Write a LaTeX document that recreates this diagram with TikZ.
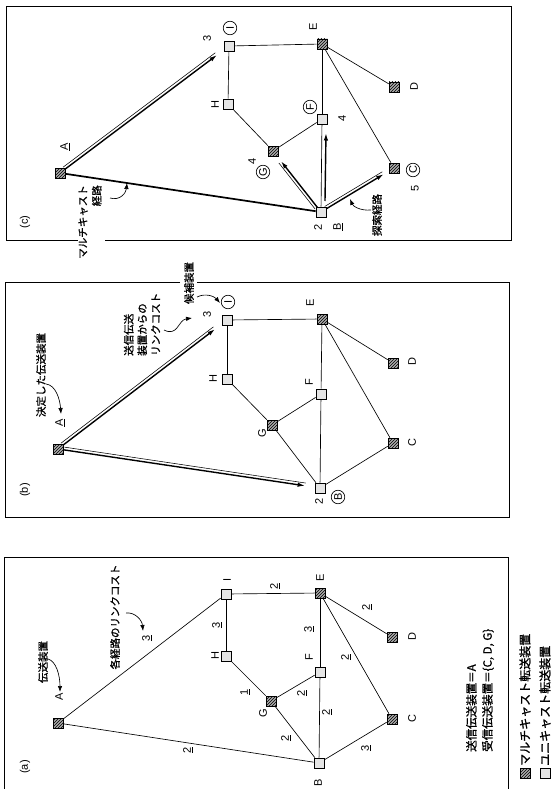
\documentclass[tikz,border=0pt]{standalone}
\usepackage{fontspec}
\setmainfont{Liberation Sans}
\newfontfamily\jp[FakeBold=1.2]{Noto Sans CJK JP}
\usetikzlibrary{patterns,arrows.meta,calc}

% thick arrow paired with a thin parallel line: from, to, start gap, end gap
\newcommand{\pairarrow}[4]{%
  \coordinate (pa-s) at ($(#1)!#3!(#2)$);
  \coordinate (pa-e) at ($(#2)!#4!(#1)$);
  \draw[line width=1.4pt,-{Latex[length=7.5pt,width=4.5pt]}] (pa-s) -- (pa-e);
  \draw[line width=0.55pt] ($(pa-s)!2.8pt!90:(pa-e)$) -- ($(pa-e)!2.8pt!-90:(pa-s)$);
}

\begin{document}
\begin{tikzpicture}[x=1pt,y=-1pt,
  mc/.style={draw, line width=0.7pt, minimum size=10pt, inner sep=0pt,
    preaction={fill=gray!65}, pattern=north east lines},
  uc/.style={draw, line width=0.7pt, minimum size=10pt, inner sep=0pt, fill=gray!20},
  edge/.style={line width=0.65pt},
  lbl/.style={rotate=90, inner sep=0pt, font=\fontsize{11}{13}\selectfont},
  jl/.style={rotate=90, inner sep=0pt, font=\jp\fontsize{10}{12}\selectfont},
  ring/.style={draw, circle, line width=0.65pt, inner sep=0pt, minimum size=13.5pt,
    rotate=90, font=\fontsize{11}{13}\selectfont},
  callout/.style={line width=0.65pt, -{Latex[length=6pt,width=4.5pt]}},
  frame/.style={line width=1pt},
]
\useasboundingbox (0,0) rectangle (557,789);

% ---------------- panel (c) ----------------
\draw[frame] (105,240) -- (511,240) -- (511,7) -- (6,7) -- (6,240) -- (78,240);
\node[lbl] (cTag) at (25,222) {(c)};

\node[mc] (cA) at (60,173) {};
\node[uc] (cI) at (229,46) {};
\node[uc] (cH) at (228,104) {};
\node[mc] (cG) at (273,151) {};
\node[mc] (cE) at (322,44) {};
\node[mc] (cD) at (394,87) {};
\node[uc] (cF) at (322,119) {};
\node[mc] (cC) at (394,168) {};
\node[uc] (cB) at (321,212) {};

\draw[edge] (cI) -- (cH);
\draw[edge] (cI) -- (cE);
\draw[edge] (cH) -- (cG);
\draw[edge] (cG) -- (cF);
\draw[edge] (cF) -- (cE);
\draw[edge] (cF) -- (cB);
\draw[edge] (cE) -- (cD);
\draw[edge] (cE) -- (cC);
\draw[line width=1.7pt] (cA) -- (cB);
\pairarrow{cA}{cI}{6pt}{15pt}
\pairarrow{cB}{cG}{6pt}{13pt}
\pairarrow{cB}{cC}{6pt}{12pt}
\coordinate (cBF0) at ($(cB)+(4,-11)$);
\coordinate (cBF1) at ($(cF)+(4,14)$);
\draw[line width=1.4pt,-{Latex[length=7.5pt,width=4.5pt]}] (cBF0) -- (cBF1);

\node[lbl] (cLA) at (65,147) {\underline{A}};
\node[ring] (cRI) at (230,28) {I};
\node[lbl] (cN3) at (207,38) {3};
\node[lbl] (cLH) at (215,105) {H};
\node[lbl] (cN4g) at (252,161) {4};
\node[ring] (cRG) at (263,172) {G};
\node[lbl] (cLE) at (313,27) {E};
\node[ring] (cRF) at (310,107) {F};
\node[lbl] (cN4f) at (342,118) {4};
\node[lbl] (cLD) at (414,87) {D};
\node[ring] (cRC) at (413,170) {C};
\node[lbl] (cN5) at (415,188) {5};
\node[lbl] (cN2) at (318,227) {2};
\node[lbl] (cLB) at (338,227) {\underline{B}};

\node[jl, anchor=east, align=right, font=\jp\fontsize{10.5}{14}\selectfont] (cMc) at (90,185) {マルチキャスト\\経路};
\coordinate (cMc0) at (110,198);
\coordinate (cMc1) at (127,183);
\draw[callout] (cMc0) .. controls (120,201) and (126,193) .. (cMc1);
\node[jl, font=\jp\fontsize{10.5}{12}\selectfont] (cSr) at (377,215) {探索経路};
\coordinate (cSr0) at (371,210);
\coordinate (cSr1) at (350,199);
\draw[callout] (cSr0) .. controls (360,211) and (353,206) .. (cSr1);

% ---------------- panel (b) ----------------
\draw[frame] (180,282) -- (5,282) -- (5,517) -- (509,517) -- (509,282) -- (197,282);
\node[lbl] (bTag) at (25,490) {(b)};

\node[mc] (bA) at (58,449) {};
\node[uc] (bI) at (227,320) {};
\node[uc] (bH) at (227,379) {};
\node[mc] (bG) at (272,425) {};
\node[mc] (bE) at (322,319) {};
\node[mc] (bD) at (393,363) {};
\node[uc] (bF) at (321,394) {};
\node[mc] (bC) at (393,443) {};
\node[uc] (bB) at (320,488) {};

\draw[edge] (bI) -- (bH);
\draw[edge] (bI) -- (bE);
\draw[edge] (bH) -- (bG);
\draw[edge] (bG) -- (bF);
\draw[edge] (bG) -- (bB);
\draw[edge] (bF) -- (bE);
\draw[edge] (bF) -- (bB);
\draw[edge] (bE) -- (bD);
\draw[edge] (bE) -- (bC);
\draw[edge] (bB) -- (bC);
\pairarrow{bA}{bI}{6pt}{15pt}
\pairarrow{bA}{bB}{6pt}{15pt}

\node[lbl] (bLA) at (60,423) {\underline{A}};
\node[lbl] (bLH) at (213,379) {H};
\node[lbl] (bLG) at (262,433) {G};
\node[lbl] (bLE) at (310,303) {E};
\node[lbl] (bLF) at (309,382) {F};
\node[lbl] (bLD) at (412,362) {D};
\node[lbl] (bLC) at (412,443) {C};
\node[lbl] (bN2) at (319,501) {2};
\node[ring] (bRB) at (338,497) {B};
\node[ring] (bRI) at (228,302) {I};
\node[lbl] (bN3) at (207,314) {3};

\node[jl, font=\jp\fontsize{10.5}{12}\selectfont] (bDec) at (41,375) {決定した伝送装置};
\coordinate (bDec0) at (46,384);
\coordinate (bDec1) at (61,414);
\draw[callout] (bDec0) .. controls (56,385) and (60,400) .. (bDec1);
\node[jl, anchor=west, align=left, font=\jp\fontsize{10.5}{13.5}\selectfont] (bCost) at (142,356) {送信伝送\\装置からの\\リンクコスト};
\coordinate (bCost0) at (164,330);
\coordinate (bCost1) at (192,318);
\draw[callout] (bCost0) .. controls (178,337) and (178,320) .. (bCost1);
\node[jl, font=\jp\fontsize{10.5}{12}\selectfont] (bCand) at (189,283) {候補装置};
\coordinate (bCand0) at (197,297);
\coordinate (bCand1) at (220,303);
\draw[callout] (bCand0) .. controls (205,293) and (214,296) .. (bCand1);

% ---------------- panel (a) ----------------
\draw[frame] (4,789) -- (4,557) -- (508,557) -- (508,789);
\node[lbl] (aTag) at (25,767) {(a)};

\node[mc] (aA) at (58,723) {};
\node[uc] (aI) at (226,594) {};
\node[uc] (aH) at (226,656) {};
\node[mc] (aG) at (271,701) {};
\node[mc] (aE) at (320,593) {};
\node[mc] (aD) at (392,637) {};
\node[uc] (aF) at (320,672) {};
\node[mc] (aC) at (392,719) {};
\node[uc] (aB) at (319,763) {};

\draw[edge] (aA) -- (aI);
\draw[edge] (aA) -- (aB);
\draw[edge] (aI) -- (aH);
\draw[edge] (aI) -- (aE);
\draw[edge] (aH) -- (aG);
\draw[edge] (aG) -- (aF);
\draw[edge] (aG) -- (aB);
\draw[edge] (aF) -- (aE);
\draw[edge] (aF) -- (aB);
\draw[edge] (aE) -- (aD);
\draw[edge] (aE) -- (aC);
\draw[edge] (aB) -- (aC);

\node[lbl] (aLA) at (59,697) {A};
\node[lbl] (aLI) at (227,580) {I};
\node[lbl] (aLH) at (215,656) {H};
\node[lbl] (aLG) at (263,713) {G};
\node[lbl] (aLE) at (320,578) {E};
\node[lbl] (aLF) at (309,657) {F};
\node[lbl] (aLD) at (412,637) {D};
\node[lbl] (aLC) at (412,719) {C};
\node[lbl] (aLB) at (318,783) {B};

\node[lbl] (aAI) at (147,638) {\underline{3}};
\node[lbl] (aAB) at (188,750) {\underline{2}};
\node[lbl] (aHI) at (217,625) {\underline{3}};
\node[lbl] (aHG) at (245,692) {\underline{1}};
\node[lbl] (aIE) at (275,586) {\underline{2}};
\node[lbl] (aEF) at (309,629) {\underline{3}};
\node[lbl] (aGF) at (302,693) {\underline{2}};
\node[lbl] (aGB) at (286,738) {\underline{2}};
\node[lbl] (aFB) at (327,712) {\underline{2}};
\node[lbl] (aED) at (367,607) {\underline{2}};
\node[lbl] (aEC) at (346,657) {\underline{2}};
\node[lbl] (aBC) at (366,748) {\underline{3}};

\node[jl, font=\jp\fontsize{10.5}{12}\selectfont] (aDev) at (43,662) {伝送装置};
\coordinate (aDev0) at (48,659);
\coordinate (aDev1) at (60,692);
\draw[callout] (aDev0) .. controls (56,661) and (60,675) .. (aDev1);
\node[jl, font=\jp\fontsize{10.5}{12}\selectfont] (aCost) at (115,617) {各経路のリンクコスト};
\coordinate (aCost0) at (126,613);
\coordinate (aCost1) at (143,631);
\draw[callout] (aCost0) .. controls (135,612) and (142,620) .. (aCost1);

\node[jl, anchor=west, align=left, font=\jp\fontsize{11.5}{16}\selectfont] (aSet) at (480,752)
  {送信伝送装置＝A\\受信伝送装置＝\{C, D, G\}};

% legend
\node[mc] (lgM) at (525,773) {};
\node[jl, anchor=west, font=\jp\fontsize{12}{14}\selectfont] (lgMt) at (525,766) {マルチキャスト転送装置};
\node[uc] (lgU) at (545,773) {};
\node[jl, anchor=west, font=\jp\fontsize{12}{14}\selectfont] (lgUt) at (545,766) {ユニキャスト転送装置};
\end{tikzpicture}
\end{document}
